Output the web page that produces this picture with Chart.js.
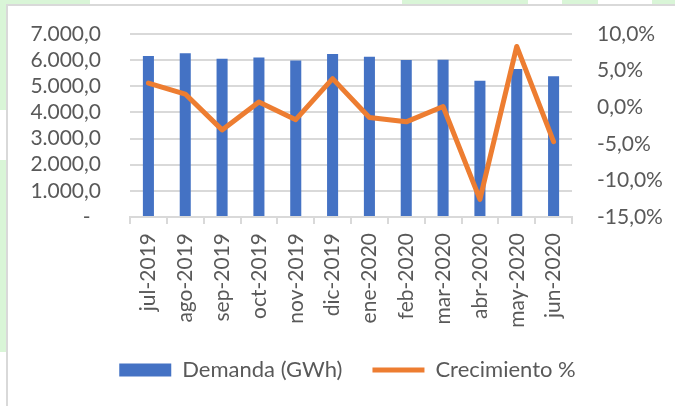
<!DOCTYPE html>
<html>
<head>
<meta charset="utf-8">
<script src="https://cdn.jsdelivr.net/npm/chart.js@4.4.0/dist/chart.umd.min.js"></script>
<style>
  html, body { margin: 0; padding: 0; }
  body { width: 675px; height: 406px; position: relative; overflow: hidden; background: #fff; }
  /* fondo verde con franjas detras de la tarjeta */
  #bgTop { position: absolute; left: 0; top: 0; width: 675px; height: 6px;
    background: linear-gradient(90deg, #d9f5d7 0 90px, #fff 90px 402px, #d9f5d7 402px 528px,
      #fff 528px 562px, #d9f5d7 562px 598px, #fff 598px 652px, #d9f5d7 652px); }
  #bgLeft { position: absolute; left: 0; top: 0; width: 7px; height: 406px;
    background: linear-gradient(180deg, #d9f5d7 0 110px, #fff 110px 160px, #d9f5d7 160px 352px, #fff 352px); }
  #card { position: absolute; left: 6px; top: 4px; width: 720px; height: 430px;
    border: 2px solid #d9d9d9; background: #fff; box-sizing: border-box; }
  #wrap { position: absolute; left: 0; top: 0; width: 675px; height: 406px; }
</style>
</head>
<body>
<div id="bgTop"></div>
<div id="bgLeft"></div>
<div id="card"></div>
<div id="wrap"><canvas id="demandaChart"></canvas></div>
<script>
// datos
const meses = ['jul-2019', 'ago-2019', 'sep-2019', 'oct-2019', 'nov-2019', 'dic-2019',
               'ene-2020', 'feb-2020', 'mar-2020', 'abr-2020', 'may-2020', 'jun-2020'];
const demanda = [6160, 6260, 6050, 6105, 5990, 6235, 6130, 6005, 6015, 5210, 5660, 5380];
const crecimiento = [3.3, 1.8, -3.1, 0.7, -1.7, 3.9, -1.4, -2.0, 0.1, -12.6, 8.3, -4.7];

// marcas de los ejes
const ejeDemanda = [0, 1000, 2000, 3000, 4000, 5000, 6000, 7000];
const ejeCrecimiento = [-15, -10, -5, 0, 5, 10];

const AZUL = '#4472C4';
const NARANJA = '#ED7D31';
const GRIS_TXT = '#595959';
const GRIS_LINEA = '#d9d9d9';

// 7000 -> "7.000,0", 0 -> "-"
function fmtMiles(v) {
  if (v === 0) return '-\u2002';
  const partes = v.toFixed(1).split('.');
  return partes[0].replace(/\B(?=(\d{3})+(?!\d))/g, '.') + ',' + partes[1];
}

function fmtPct(v) {
  return v.toFixed(1).replace('.', ',') + '%';
}

Chart.defaults.font.family = 'Lato';
Chart.defaults.font.size = 21;
Chart.defaults.color = GRIS_TXT;

new Chart(document.getElementById('demandaChart').getContext('2d'), {
  type: 'bar',
  data: {
    labels: meses,
    datasets: [
      {
        type: 'bar',
        label: 'Demanda (GWh)',
        data: demanda,
        backgroundColor: AZUL,
        borderWidth: 0,
        barPercentage: 0.3,
        categoryPercentage: 1,
        yAxisID: 'y',
        order: 1,
        pointStyle: 'rect'
      },
      {
        type: 'line',
        label: 'Crecimiento %',
        data: crecimiento,
        borderColor: NARANJA,
        backgroundColor: NARANJA,
        borderWidth: 5,
        borderJoinStyle: 'round',
        borderCapStyle: 'round',
        pointRadius: 0,
        tension: 0,
        yAxisID: 'y1',
        order: 0,
        pointStyle: 'line'
      }
    ]
  },
  options: {
    responsive: true,
    maintainAspectRatio: false,
    animation: false,
    layout: { padding: { top: 34, left: 20, right: 0, bottom: 15 } },
    plugins: {
      tooltip: { enabled: false },
      legend: {
        position: 'bottom',
        labels: {
          usePointStyle: true,
          pointStyleWidth: 52,
          boxHeight: 13,
          padding: 30,
          color: GRIS_TXT,
          font: { size: 22 },
          sort: (a, b) => a.datasetIndex - b.datasetIndex
        }
      }
    },
    scales: {
      x: {
        offset: true,
        grid: { drawOnChartArea: false, color: GRIS_LINEA, lineWidth: 2, tickLength: 7, offset: true },
        border: { color: GRIS_LINEA, width: 2 },
        ticks: { autoSkip: false, minRotation: 90, maxRotation: 90, padding: 9 },
        afterFit(scale) { scale.height = 112; }
      },
      y: {
        position: 'left',
        min: ejeDemanda[0],
        max: ejeDemanda[ejeDemanda.length - 1],
        afterBuildTicks(scale) { scale.ticks = ejeDemanda.map(v => ({ value: v })); },
        // el hueco entre etiqueta y area se hace con una marca invisible
        grid: { color: GRIS_LINEA, lineWidth: 2, drawTicks: true, tickLength: 29, tickColor: 'rgba(0,0,0,0)' },
        border: { display: false },
        ticks: { autoSkip: false, padding: 0, callback: v => fmtMiles(v) },
        afterFit(scale) { scale.width = 110; }
      },
      y1: {
        position: 'right',
        min: ejeCrecimiento[0],
        max: ejeCrecimiento[ejeCrecimiento.length - 1],
        afterBuildTicks(scale) { scale.ticks = ejeCrecimiento.map(v => ({ value: v })); },
        grid: { drawOnChartArea: false, drawTicks: true, tickLength: 25, tickColor: 'rgba(0,0,0,0)' },
        border: { display: false },
        ticks: { autoSkip: false, padding: 0, callback: v => fmtPct(v) },
        afterFit(scale) { scale.width = 103; }
      }
    }
  }
});
</script>
</body>
</html>
